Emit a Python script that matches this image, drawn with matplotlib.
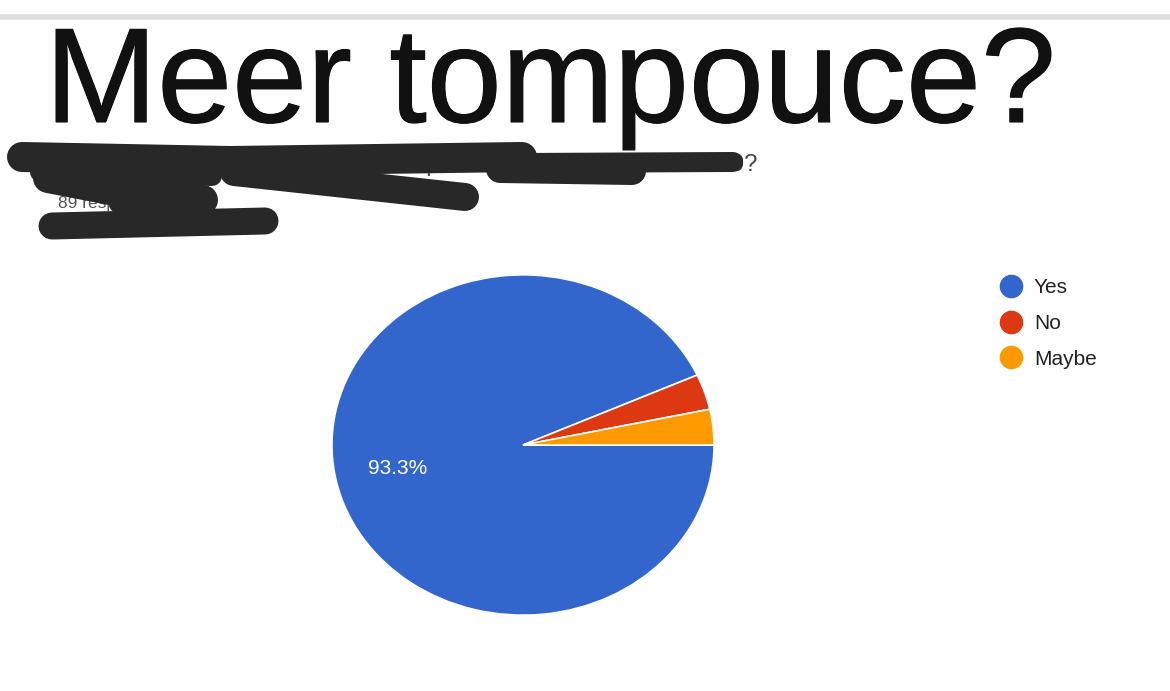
import matplotlib.pyplot as plt
import matplotlib.patheffects as pe
from matplotlib.lines import Line2D

plt.rcParams['font.family'] = ['Liberation Sans', 'DejaVu Sans']

# survey result (89 responses)
labels = ['Yes', 'No', 'Maybe']
counts = [83, 3, 3]
colors = ['#3366cc', '#dc3912', '#ff9900']

title = 'Meer tompouce?'
question = 'Would you like more tompouce at the end of COVID-19?'
n_resp = '89 responses'

# marker scribbles over the question text (pixel coords, width in px)
scribbles = [
    ([22, 230, 522], [157, 161, 157], 30),
    ([40, 212], [172, 176], 20),
    ([234, 465], [172, 197], 28),
    ([48, 110, 203], [178, 190, 200], 30),
    ([118, 200], [204, 206], 18),
    ([52, 265], [226, 221], 27),
    ([500, 632], [169, 171], 28),
    ([520, 733], [163, 162], 20),
]

W, H = 1170, 691
fig = plt.figure(figsize=(W / 100, H / 100), dpi=100)
fig.patch.set_facecolor('white')

# pie (slightly squashed like the screenshot)
pl, pr, pt, pb = 331, 715, 274, 616
ax = fig.add_axes([pl / W, 1 - pb / H, (pr - pl) / W, (pb - pt) / H])
wedges, _, autotexts = ax.pie(
    counts, colors=colors, startangle=0, counterclock=False,
    autopct=lambda p: f'{p:.1f}%' if p > 5 else '', pctdistance=0.67,
    wedgeprops=dict(edgecolor='white', linewidth=1.2),
    textprops=dict(color='white', fontsize=15))
ax.set_aspect('auto')
ax.set_xlim(-1.005, 1.005)
ax.set_ylim(-1.005, 1.005)

# legend with round markers
handles = [Line2D([], [], marker='o', ls='', markersize=16, color=c) for c in colors]
fig.legend(handles, labels, loc='upper left', bbox_to_anchor=(987 / W, 1 - 268 / H),
           frameon=False, fontsize=15, labelspacing=0.8, handletextpad=0.45,
           handlelength=1.3, borderpad=0, labelcolor='#222222')

# overlay for header, text and scribbles
ov = fig.add_axes([0, 0, 1, 1], zorder=5)
ov.set_xlim(0, W)
ov.set_ylim(H, 0)
ov.axis('off')
ov.patch.set_alpha(0)

ov.plot([0, W], [16.5, 16.5], color='#e0e0e0', lw=4)
ov.text(45, 122, title, fontsize=97, color='#111111', va='baseline', ha='left',
        zorder=6, path_effects=[pe.withStroke(linewidth=0.8, foreground='#111111')])
ov.text(757, 171, question, fontsize=17, color='#444444', va='baseline', ha='right',
        zorder=1)
ov.text(58, 208, n_resp, fontsize=12.5, color='#555555', va='baseline', ha='left',
        zorder=1)

for xs, ys, w in scribbles:
    ov.plot(xs, ys, color='#282828', lw=w * 0.72, solid_capstyle='round',
            solid_joinstyle='round', zorder=4)

fig.savefig('out.png', dpi=100, facecolor='white')
